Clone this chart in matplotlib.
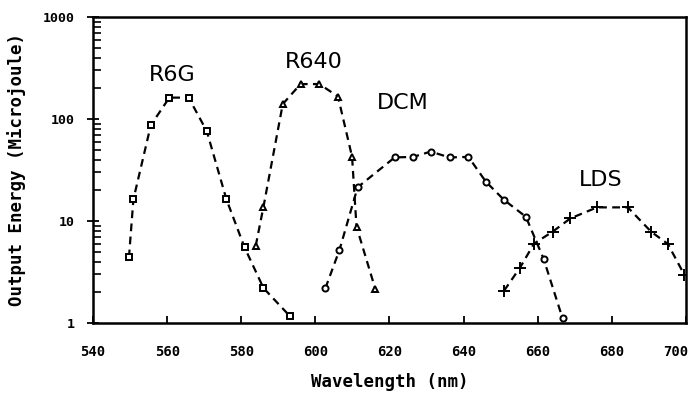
import matplotlib
matplotlib.use("Agg")
import matplotlib.pyplot as plt
import matplotlib.transforms as mtransforms
from matplotlib.ticker import LogLocator, NullFormatter, FixedLocator

# ---- data ----
r6g_wl = [549.7, 550.9, 555.6, 560.6, 565.8, 570.7, 576.0, 580.9, 586.0, 593.1]
r6g_e = [4.4, 16.3, 87, 162, 162, 76, 16.3, 5.5, 2.2, 1.17]

r640_wl = [583.9, 586.0, 591.2, 596.0, 601.1, 606.1, 609.9, 611.1, 616.2]
r640_e = [5.7, 13.8, 140, 220, 220, 166, 42.7, 8.8, 2.14]

dcm_wl = [602.7, 606.5, 611.4, 621.4, 626.4, 631.1, 636.2, 641.3, 646.0, 650.9, 656.8, 661.6, 666.7]
dcm_e = [2.19, 5.2, 21.4, 42, 42.5, 47.9, 42, 42.5, 24.3, 16.1, 11.0, 4.24, 1.11]

lds_wl = [650.9, 655.2, 659.0, 664.0, 668.8, 676.0, 684.3, 690.6, 695.1, 699.6]
lds_e = [2.07, 3.48, 6.0, 7.85, 10.6, 13.6, 13.6, 7.85, 5.96, 2.95]

x_ticks = [540, 560, 580, 600, 620, 640, 660, 680, 700]
y_ticks = [1, 10, 100, 1000]
y_tick_labels = ["1", "10", "100", "1000"]

dye_names = ["R6G", "R640", "DCM", "LDS"]
dye_label_pos = [(561.4, 269), (599.5, 360), (623.5, 144), (677.0, 25)]

# ---- figure ----
fig = plt.figure(figsize=(6.92, 3.97), dpi=100)
ax = fig.add_axes([0.1344, 0.1864, 0.8569, 0.7708])

mono = "DejaVu Sans Mono"
line_kw = dict(color="black", lw=1.6, dashes=(3.5, 2.4))
mk_kw = dict(color="black", mfc="white", mec="black", mew=1.4, ls="none")

series = [
    (r6g_wl, r6g_e, "s", 4.2),
    (r640_wl, r640_e, "^", 5.0),
    (dcm_wl, dcm_e, "o", 4.4),
    (lds_wl, lds_e, "+", 8.0),
]
for wl, e, m, ms in series:
    ax.plot(wl, e, **line_kw, zorder=2)
    ax.plot(wl, e, marker=m, ms=ms, zorder=3, **mk_kw)

ax.set_yscale("log")
ax.set_xlim(540, 700)
ax.set_ylim(1, 1000)

ax.xaxis.set_major_locator(FixedLocator(x_ticks))
ax.set_xticklabels([str(t) for t in x_ticks], fontfamily=mono,
                   fontweight="bold", fontsize=10)
ax.yaxis.set_major_locator(FixedLocator(y_ticks))
ax.set_yticklabels(y_tick_labels, fontfamily=mono, fontweight="bold", fontsize=9.5)
ax.yaxis.set_minor_locator(LogLocator(base=10, subs=range(2, 10)))
ax.yaxis.set_minor_formatter(NullFormatter())

ax.tick_params(axis="x", which="major", direction="in", length=5, width=1.3, pad=16)
ax.tick_params(axis="x", which="minor", length=0)
ax.tick_params(axis="y", which="major", direction="inout", length=8, width=1.3, pad=9)
ax.tick_params(axis="y", which="minor", direction="in", length=6, width=1.2)

# the last x label sits a little to the left of its tick, as in the reference
last = ax.get_xticklabels()[-1]
last.set_transform(last.get_transform() +
                   mtransforms.ScaledTranslation(-10 / 100, 0, fig.dpi_scale_trans))

for s in ax.spines.values():
    s.set_linewidth(1.8)

ax.set_xlabel("Wavelength (nm)", fontfamily=mono, fontweight="bold",
              fontsize=12.5, labelpad=10)
ax.set_ylabel("Output Energy (Microjoule)", fontfamily=mono, fontweight="bold",
              fontsize=12.5, labelpad=12)

for name, (x, y) in zip(dye_names, dye_label_pos):
    ax.text(x, y, name, ha="center", va="center", fontsize=16,
            fontfamily="DejaVu Sans", fontweight="normal")

fig.savefig("out.png", dpi=100)
